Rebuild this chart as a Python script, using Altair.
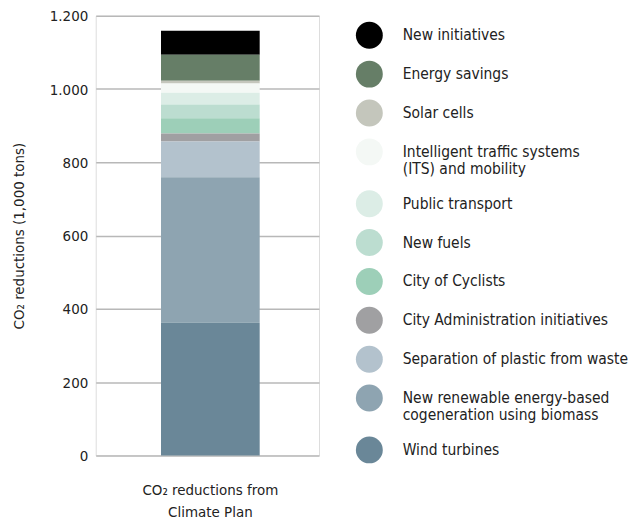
import altair as alt
import pandas as pd

categories = [
    "New initiatives",
    "Energy savings",
    "Solar cells",
    "Intelligent traffic systems|(ITS) and mobility",
    "Public transport",
    "New fuels",
    "City of Cyclists",
    "City Administration initiatives",
    "Separation of plastic from waste",
    "New renewable energy-based|cogeneration using biomass",
    "Wind turbines",
]
values = [65, 71, 8, 25, 32, 38, 41, 22, 98, 397, 362]
colors = [
    "#000000", "#667e67", "#c4c6bc", "#f4f8f5", "#dcede6", "#bcddd0",
    "#9dcfb8", "#a0a0a2", "#b3c2cd", "#8ea4b1", "#6a8798",
]
stack_rank = [10, 9, 8, 7, 6, 5, 4, 3, 2, 1, 0]
bar_label = "CO₂ reductions from|Climate Plan"

df = pd.DataFrame({
    "measure": categories,
    "value": values,
    "rank": stack_rank,
    "group": [bar_label] * len(categories),
})

FONT = "DejaVu Sans Condensed"

chart = alt.Chart(df).mark_bar(size=99, xOffset=3).encode(
    x=alt.X("group:N", title=None,
            axis=alt.Axis(labelExpr="split(datum.label, '|')", labelAngle=0,
                          domain=False, ticks=False, labelPadding=27,
                          labelOffset=3,
                          labelFontSize=15, labelColor="#222", labelFont=FONT,
                          labelLineHeight=22)),
    y=alt.Y("value:Q", stack="zero",
            scale=alt.Scale(domain=[0, 1200]),
            title="CO₂ reductions (1,000 tons)",
            axis=alt.Axis(values=[0, 200, 400, 600, 800, 1000, 1200],
                          labelExpr="replace(format(datum.value, ','), ',', '.')",
                          domain=False, ticks=False, labelPadding=8,
                          labelFontSize=15, labelColor="#222", labelFont=FONT,
                          titleFontSize=15, titleColor="#222", titleFont=FONT,
                          titleFontWeight="normal", titlePadding=23,
                          gridColor="#b8b8b8", gridWidth=1.5)),
    color=alt.Color("measure:N",
                    scale=alt.Scale(domain=categories, range=colors),
                    legend=alt.Legend(title=None, orient="none",
                                      legendX=261, legendY=6,
                                      symbolType="circle", symbolSize=729,
                                      symbolStrokeWidth=0,
                                      labelExpr="split(datum.label, '|')",
                                      labelFontSize=15.5, labelColor="#222",
                                      labelFont=FONT, labelOffset=20,
                                      labelLimit=400, rowPadding=12)),
    order=alt.Order("rank:Q", sort="ascending"),
).properties(
    width=224, height=441,
).configure_view(stroke=None).configure(padding={"left": 3, "top": 0, "right": 0, "bottom": 0})

chart.save("out.html", embed_options={"renderer": "svg", "actions": False})
